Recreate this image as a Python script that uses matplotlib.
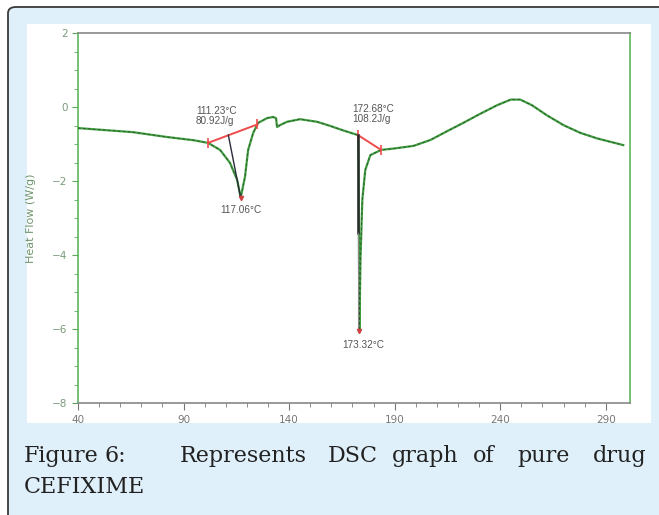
import numpy as np
import matplotlib.pyplot as plt
from matplotlib.patches import FancyBboxPatch, Rectangle

# DSC trace (temperature in C, heat flow in W/g)
temp = [40, 66, 82, 95, 101.6, 107.3, 112, 115.4, 117.06, 119.1, 120.6, 123, 125.3,
        129.6, 132.4, 133.8, 134.3, 135.7, 139, 145.2, 153.3, 159.4, 166, 172.7,
        172.9, 173.1, 173.32, 173.8, 174.7, 176.1, 178.5, 183.6, 190, 199, 207, 215,
        222.5, 230, 238.6, 245, 249.5, 255, 262, 270, 278, 286, 298.3]
heat = [-0.57, -0.68, -0.81, -0.9, -0.97, -1.16, -1.51, -1.97, -2.45, -1.89, -1.16,
        -0.7, -0.43, -0.3, -0.27, -0.3, -0.54, -0.49, -0.4, -0.33, -0.4, -0.51, -0.64,
        -0.76, -1.6, -3.8, -6.05, -4.14, -2.5, -1.7, -1.3, -1.16, -1.12, -1.05, -0.89,
        -0.65, -0.43, -0.2, 0.05, 0.2, 0.2, 0.05, -0.22, -0.49, -0.7, -0.85, -1.03]

# peak integration annotations
base1_x = [101.6, 125.0]
base1_y = [-0.97, -0.47]
onset1 = (111.23, -0.76)
peak1 = (117.06, -2.45)
base2_x = [172.68, 183.6]
base2_y = [-0.76, -1.16]
onset2 = (172.68, -0.76)
peak2 = (173.32, -6.05)

W, H = 659, 515
fig = plt.figure(figsize=(W / 100, H / 100), dpi=100)
fig.patch.set_facecolor('white')

bg = FancyBboxPatch((8 / W, -0.2), 1.2, 1.2 - 7 / H, transform=fig.transFigure,
                    boxstyle='round,pad=0,rounding_size=0.012', facecolor='#dff0fb',
                    edgecolor='#3a3a3a', linewidth=1.3, zorder=-2)
fig.patches.append(bg)
panel = Rectangle((27 / W, (H - 423) / H), 624 / W, 399 / H, transform=fig.transFigure,
                  facecolor='white', edgecolor='none', zorder=-1)
fig.patches.append(panel)

ax = fig.add_axes([78 / W, (H - 403) / H, 552 / W, 370 / H])
ax.set_zorder(2)
ax.set_facecolor('white')

green = '#3f9e3f'
ax.plot(temp, heat, color=green, lw=1.6, zorder=3)
ax.plot(temp, heat, color='#2f4f2f', lw=0.6, dashes=(3, 3), zorder=4)

ax.plot(base1_x, base1_y, color='#f04a4a', lw=1.4, zorder=5)
ax.plot(base1_x, base1_y, ls='none', marker='|', ms=7, color='#f04a4a', mew=1.2, zorder=5)
ax.plot([onset1[0], peak1[0]], [onset1[1], peak1[1]], color='#2a2a3a', lw=1.0, zorder=5)
ax.plot(base2_x, base2_y, color='#f04a4a', lw=1.4, zorder=5)
ax.plot(base2_x, base2_y, ls='none', marker='|', ms=7, color='#f04a4a', mew=1.2, zorder=5)
ax.plot([onset2[0], onset2[0]], [onset2[1], -3.4], color='#2a2a2a', lw=1.8, zorder=5)
ax.plot([onset2[0], onset2[0]], [-3.4, peak2[1]], color='#888888', lw=0.8, zorder=5)
ax.plot([peak1[0]], [peak1[1]], marker='v', ms=3, color='#d04040', zorder=6)
ax.plot([peak2[0]], [peak2[1]], marker='v', ms=3, color='#d04040', zorder=6)

tc = '#555555'
lab = dict(fontsize=7.2, family='Liberation Sans', color=tc, linespacing=1.0)
ax.text(95.9, -0.5, '111.23°C\n80.92J/g', ha='left', va='bottom', **lab)
ax.text(117.25, -2.66, '117.06°C', ha='center', va='top', **lab)
ax.text(169.9, -0.47, '172.68°C\n108.2J/g', ha='left', va='bottom', **lab)
ax.text(175.1, -6.3, '173.32°C', ha='center', va='top', **lab)

ax.set_xlim(40, 301.5)
ax.set_ylim(-8, 2)
ax.set_xticks(np.arange(40, 300, 50))
ax.set_xticks(np.arange(40, 300, 10), minor=True)
ax.set_yticks(np.arange(-8, 3, 2))
ax.set_yticks(np.arange(-8, 2.1, 0.5), minor=True)
ax.tick_params(axis='x', which='both', colors='#777777', labelsize=7.5, length=3, labelcolor='#777777')
ax.tick_params(axis='x', which='major', length=5)
ax.tick_params(axis='y', which='both', colors='#5aa85a', labelsize=7.5, length=3, labelcolor='#7a9a7a')
ax.tick_params(axis='y', which='major', length=4)
for s in ['left', 'right']:
    ax.spines[s].set_color('#5cb85c')
    ax.spines[s].set_linewidth(1.2)
for s in ['top', 'bottom']:
    ax.spines[s].set_color('#888888')
    ax.spines[s].set_linewidth(1.2)
ax.set_ylabel('Heat Flow (W/g)', fontsize=8, color='#6e956e', labelpad=8)
ax.yaxis.set_label_coords(-42 / 552, 0.5)

cap = dict(fontsize=16, family='DejaVu Serif', color='#222222', va='baseline', ha='left')
y1 = (H - 462) / H
y2 = (H - 493) / H
for word, px in [('Figure', 24), ('6:', 104), ('Represents', 180), ('DSC', 328),
                 ('graph', 392), ('of', 473), ('pure', 517), ('drug', 593)]:
    fig.text(px / W, y1, word, **cap)
fig.text(24 / W, y2, 'CEFIXIME', **cap)

fig.savefig('out.png', dpi=100)
